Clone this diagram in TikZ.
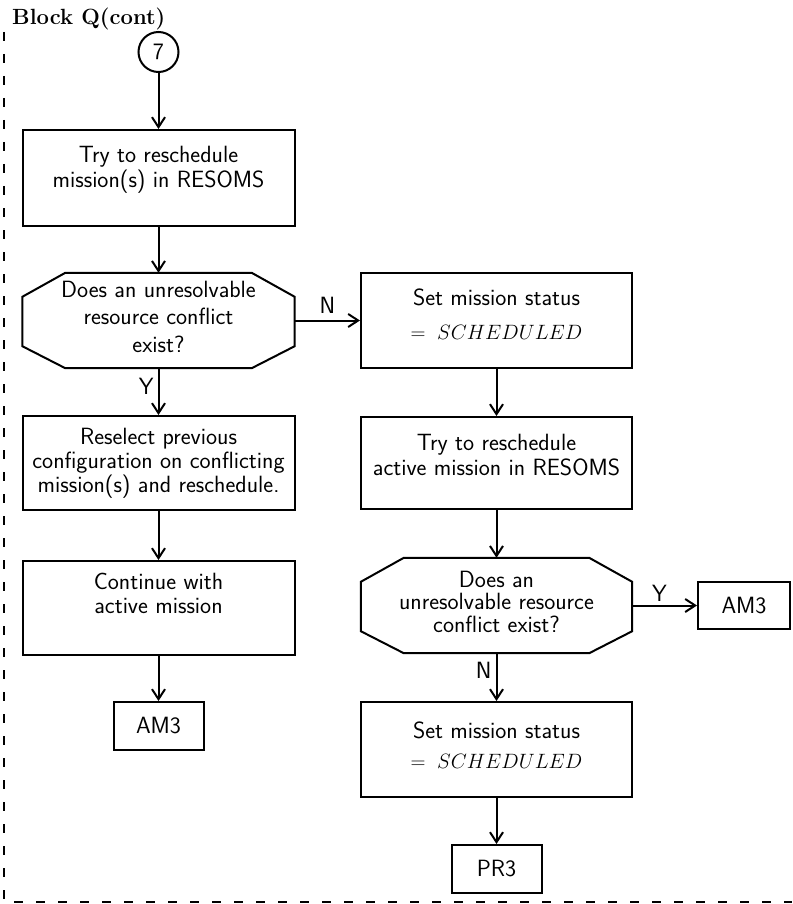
\documentclass[tikz,border=0pt]{standalone}
\usetikzlibrary{arrows.meta,calc}
\newcommand\mlines[1]{\begin{tabular}[b]{@{}c@{}}#1\end{tabular}}
\newcommand\schedl{{\fontsize{20}{24}\selectfont$=\;SCHEDULED$}}
\begin{document}
\begin{tikzpicture}[x=1pt,y=-1pt,
  every node/.style={font=\fontsize{23.5}{24}\selectfont\sffamily},
  box/.style={draw, line width=2pt, rectangle, inner sep=0pt},
  octo/.style={draw=none, rectangle, inner sep=0pt},
  octline/.style={line width=2pt, line join=miter},
  arr/.style={line width=2pt, -{Straight Barb[length=10pt,width=13pt]}},
  lab/.style={inner sep=1pt},
  frame/.style={line width=2pt, dash pattern=on 9pt off 13pt}
]
\useasboundingbox (0,0) rectangle (792,904);

% frame
\draw[frame] (4,32) -- (4,902) -- (792,902);

% title
\node[anchor=base west, inner sep=0pt, font=\fontsize{22}{24}\selectfont\rmfamily\bfseries] (title) at (12,25) {Block Q(cont)};

% left column
\node[circle, draw, line width=2pt, minimum size=40pt, inner sep=0pt] (c7) at (158.5,52) {7};
\node[box, minimum width=272pt, minimum height=96pt, text depth=22.8pt] (b1) at (158.5,178)
  {\mlines{Try to reschedule\\mission(s) in RESOMS}};
\node[octo, minimum width=272pt, minimum height=95pt, text depth=8.8pt] (d1) at (158.5,320.5)
  {\mlines{Does an unresolvable\\[3.5pt]resource conflict\\[3.5pt]exist?}};
\node[box, minimum width=272pt, minimum height=94pt, text depth=5.8pt] (rs) at (158.5,463)
  {\mlines{Reselect previous\\configuration on conflicting\\mission(s) and reschedule.}};
\node[box, minimum width=272pt, minimum height=94pt, text depth=29.8pt] (co) at (158.5,608)
  {\mlines{Continue with\\active mission}};
\node[box, minimum width=90pt, minimum height=48pt] (am3l) at (158.5,726) {AM3};

% right column
\node[box, minimum width=271pt, minimum height=95pt, text depth=13.8pt] (sm1) at (496.5,320.5)
  {\mlines{Set mission status\\[10pt]\schedl}};
\node[box, minimum width=271pt, minimum height=92pt, text depth=17.8pt] (tr2) at (496.5,463)
  {\mlines{Try to reschedule\\[1pt]active mission in RESOMS}};
\node[octo, minimum width=271pt, minimum height=95pt, text depth=8.8pt] (d2) at (496.5,605.5)
  {\mlines{Does an\\[-1.5pt]unresolvable resource\\[-1.5pt]conflict exist?}};
\node[box, minimum width=92pt, minimum height=47pt] (am3r) at (744,605.5) {AM3};
\node[box, minimum width=271pt, minimum height=95pt, text depth=9.8pt] (sm2) at (496.5,749.5)
  {\mlines{Set mission status\\[6pt]\schedl}};
\node[box, minimum width=90pt, minimum height=48pt] (pr3) at (496.5,869) {PR3};

% octagon outlines of the two decisions
\foreach \d in {d1,d2}{
  \draw[octline] ($(\d.north west)+(43,0)$) -- ($(\d.north east)+(-43,0)$)
    -- ($(\d.north east)+(0,24)$) -- ($(\d.south east)+(0,-22)$)
    -- ($(\d.south east)+(-43,0)$) -- ($(\d.south west)+(43,0)$)
    -- ($(\d.south west)+(0,-22)$) -- ($(\d.north west)+(0,24)$) -- cycle;
}

% connectors
\draw[arr] (c7.south) -- (b1.north);
\draw[arr] (b1.south) -- (d1.north);
\draw[arr] (d1.south) -- node[lab, left=3pt, pos=0.38] (ly1) {Y} (rs.north);
\draw[arr] (d1.east) -- node[lab, above=5pt, pos=0.5] (ln1) {N} (sm1.west);
\draw[arr] (rs.south) -- (co.north);
\draw[arr] (co.south) -- (am3l.north);
\draw[arr] (sm1.south) -- (tr2.north);
\draw[arr] (tr2.south) -- (d2.north);
\draw[arr] (d2.east) -- node[lab, above=2pt, pos=0.42] (ly2) {Y} (am3r.west);
\draw[arr] (d2.south) -- node[lab, left=3pt, pos=0.35] (ln2) {N} (sm2.north);
\draw[arr] (sm2.south) -- (pr3.north);
\end{tikzpicture}
\end{document}
